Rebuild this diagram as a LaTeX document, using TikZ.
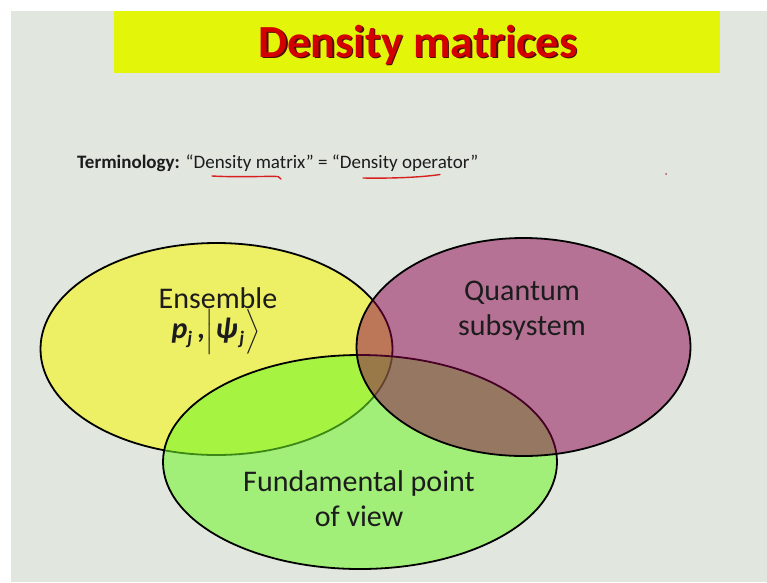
\documentclass[tikz,border=0pt]{standalone}
\usepackage{amsmath}
\usepackage{fontspec}
\setmainfont{Carlito}
\definecolor{slidebg}{HTML}{E1E6DF}
\definecolor{titlebar}{HTML}{E3F60A}
\definecolor{titlered}{HTML}{D40000}
\definecolor{titleshade}{HTML}{4A1010}
\definecolor{ellyellow}{HTML}{EDEF64}
\definecolor{ellgreen}{RGB}{110,247,39}
\definecolor{ellmagenta}{RGB}{140,0,77}
\definecolor{inkred}{HTML}{D82020}
\definecolor{textdark}{HTML}{1C1C1C}
\begin{document}
\begin{tikzpicture}[x=1pt,y=-1pt,
  label/.style={text=textdark,font=\fontsize{30}{35}\selectfont,align=center,inner sep=0pt},
  ring/.style={draw=black,line width=1.8pt}]
\useasboundingbox (0,0) rectangle (767,582);
\fill[white] (0,0) rectangle (767,582);
\fill[slidebg] (11,11) rectangle (767,582);
% title
\fill[titlebar] (114,11) rectangle (720,73);
\node[anchor=base,text=titleshade,font=\fontsize{46}{50}\selectfont\bfseries,inner sep=0pt] (titleshadow) at (419.5,58.5) {Density matrices};
\node[anchor=base,text=titlered,font=\fontsize{46}{50}\selectfont\bfseries,inner sep=0pt] (title) at (418,57) {Density matrices};
% terminology line
\node[anchor=base west,text=textdark,font=\fontsize{19}{23}\selectfont,inner sep=0pt] (term) at (77,168) {\textbf{Terminology:} “Density matrix” = “Density operator”};
\draw[inkred,line width=1.4pt,line cap=round] (212,176) .. controls (240,177.5) and (265,176) .. (278,176.5) -- (281,179);
\draw[inkred,line width=1.4pt,line cap=round] (363,178) .. controls (390,178.5) and (420,177.5) .. (440,174.5);
\fill[inkred!50!gray] (666,174) circle (1);
% ellipses
\path[ring,fill=ellyellow] (216.5,349) ellipse [x radius=176pt, y radius=106pt];
\path[ring,fill=ellgreen,fill opacity=0.55] (360,462) ellipse [x radius=197pt, y radius=107pt];
\path[ring,fill=ellmagenta,fill opacity=0.5] (523.5,347) ellipse [x radius=167pt, y radius=109pt];
% labels
\node[label] (ens) at (218,298) {Ensemble};
\node[label,anchor=base] (ensmath) at (216,338) {{\bfseries\itshape p}\raisebox{-0.22em}{\fontsize{19}{19}\selectfont\bfseries\itshape j}\,{\bfseries,}\kern1pt$\Big|$\kern1pt{\bfseries\itshape ψ}\kern2pt\raisebox{-0.22em}{\fontsize{19}{19}\selectfont\bfseries\itshape j}\kern1pt$\Big\rangle$};
\node[label] (quant) at (522,311) {Quantum\\subsystem};
\node[label] (fund) at (359,499) {Fundamental point\\of view};
\end{tikzpicture}
\end{document}
